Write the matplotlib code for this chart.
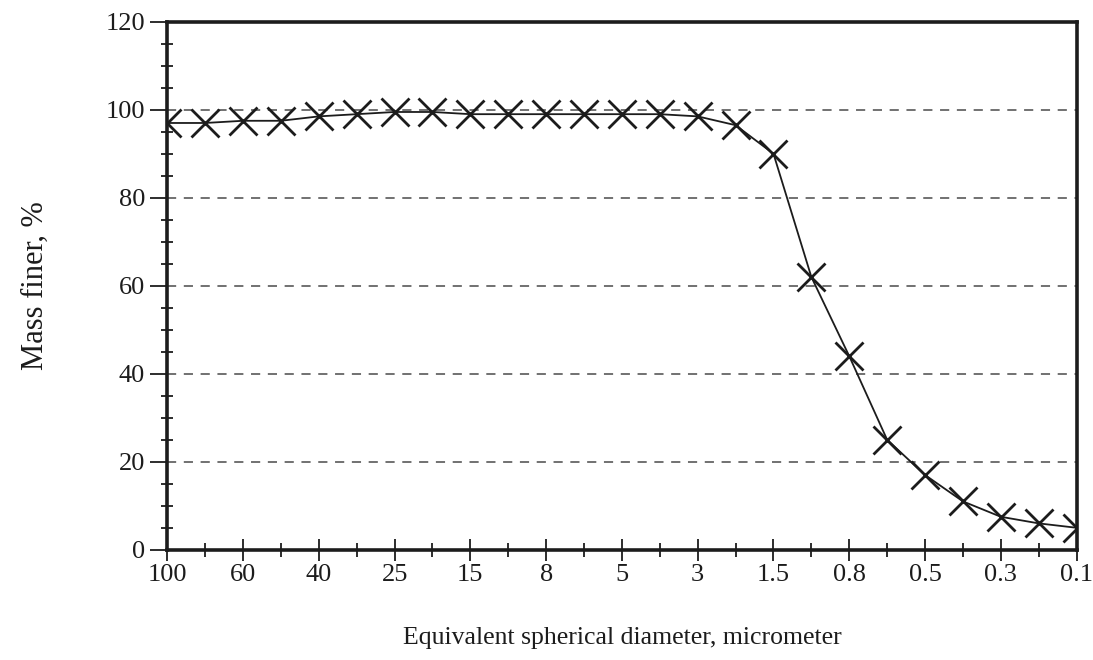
import numpy as np
import matplotlib
matplotlib.use("Agg")
import matplotlib.pyplot as plt
from matplotlib.ticker import MultipleLocator

plt.rcParams['font.family'] = ['Liberation Serif', 'DejaVu Serif']

# diametros (micrometro), 25 puntos igualmente espaciados en el eje
diametros = ["100", "80", "60", "50", "40", "30", "25", "20", "15", "10", "8", "6", "5",
             "4", "3", "2", "1.5", "1", "0.8", "0.6", "0.5", "0.4", "0.3", "0.2", "0.1"]
# masa mas fina, %
masa_fina = [97, 97, 97.5, 97.5, 98.5, 99, 99.5, 99.5, 99, 99, 99, 99, 99,
             99, 98.5, 96.5, 90, 62, 44, 25, 17, 11, 7.5, 6, 5]

pos = np.arange(len(diametros))
negro = "#1c1c1c"

fig = plt.figure(figsize=(10.93, 6.6), dpi=100)
ax = fig.add_axes([0.153, 0.167, 0.832, 0.80])

# lineas guia discontinuas
for yv in [20, 40, 60, 80, 100]:
    ax.plot([0, 24], [yv, yv], linestyle=(0, (6, 5)), color="#4a4a4a", linewidth=1.1, zorder=1)

ax.plot(pos, masa_fina, color=negro, linewidth=1.3, zorder=2)
ax.plot(pos, masa_fina, linestyle="none", marker="x", markersize=20,
        markeredgewidth=2.0, color=negro, zorder=3)

ax.set_xlim(0, 24)
ax.set_ylim(0, 120)

ax.set_xticks(pos[::2])
ax.set_xticklabels(diametros[::2])
ax.set_xticks(pos[1::2], minor=True)
ax.yaxis.set_major_locator(MultipleLocator(20))
ax.yaxis.set_minor_locator(MultipleLocator(5))

ax.tick_params(axis="x", which="major", direction="inout", length=16, width=1.3,
               labelsize=19, pad=2, colors=negro)
ax.tick_params(axis="x", which="minor", direction="inout", length=10, width=1.3, colors=negro)
ax.tick_params(axis="y", which="major", direction="out", length=12, width=1.3,
               labelsize=19, pad=4, colors=negro)
ax.tick_params(axis="y", which="minor", direction="inout", length=9, width=1.3, colors=negro)

for s in ax.spines.values():
    s.set_linewidth(2.6)
    s.set_color(negro)

ax.set_xlabel("Equivalent spherical diameter, micrometer", fontsize=18.5, labelpad=30, color=negro)
ax.set_ylabel("Mass finer, %", fontsize=22, labelpad=40, color=negro)

fig.savefig("out.png", dpi=100)
